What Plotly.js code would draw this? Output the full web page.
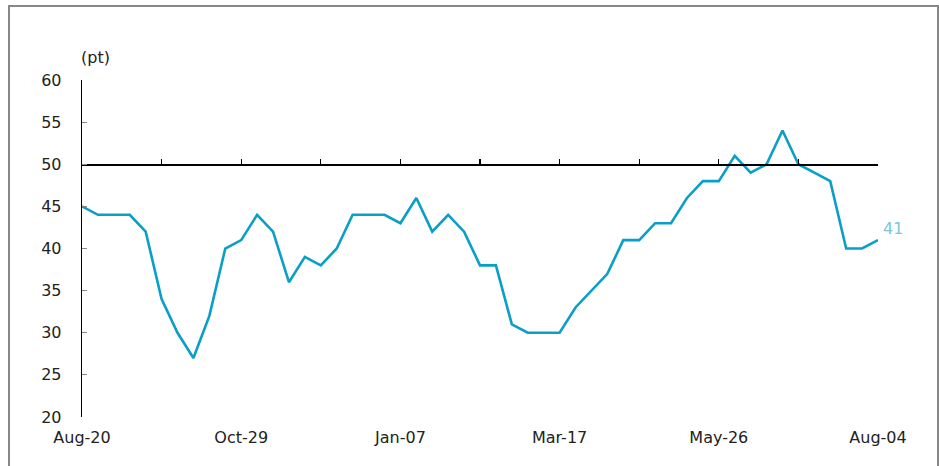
<!DOCTYPE html>
<html>
<head>
<meta charset="utf-8">
<script src="https://cdn.plot.ly/plotly-3.0.1.min.js"></script>
<style>
  html, body { margin: 0; padding: 0; background: #fff; overflow: hidden; }
  #wrap { position: relative; width: 939px; height: 466px; }
  #chart { width: 939px; height: 466px; }
  #frame { position: absolute; left: 8px; top: 5px; width: 931px; height: 475px;
           box-sizing: border-box; border: 2px solid #878787; pointer-events: none; }
</style>
</head>
<body>
<div id="wrap">
  <div id="chart"></div>
  <div id="frame"></div>
</div>
<script>
// Weekly dates (Aug 20, 2015 – Aug 4, 2016)
const weeks = [
  '2015-08-20','2015-08-27','2015-09-03','2015-09-10','2015-09-17','2015-09-24',
  '2015-10-01','2015-10-08','2015-10-15','2015-10-22','2015-10-29',
  '2015-11-05','2015-11-12','2015-11-19','2015-11-26',
  '2015-12-03','2015-12-10','2015-12-17','2015-12-24','2015-12-31',
  '2016-01-07','2016-01-14','2016-01-21','2016-01-28',
  '2016-02-04','2016-02-11','2016-02-18','2016-02-25',
  '2016-03-03','2016-03-10','2016-03-17','2016-03-24','2016-03-31',
  '2016-04-07','2016-04-14','2016-04-21','2016-04-28',
  '2016-05-05','2016-05-12','2016-05-19','2016-05-26',
  '2016-06-02','2016-06-09','2016-06-16','2016-06-23','2016-06-30',
  '2016-07-07','2016-07-14','2016-07-21','2016-07-28',
  '2016-08-04'
];
// Index values (pt)
const values = [
  45, 44, 44, 44, 42, 34, 30, 27, 32, 40, 41,
  44, 42, 36, 39, 38, 40, 44, 44, 44,
  43, 46, 42, 44, 42, 38, 38, 31, 30, 30,
  30, 33, 35, 37, 41, 41, 43, 43, 46, 48,
  48, 51, 49, 50, 54, 50, 49, 48, 40, 40,
  41
];
// Labelled x ticks
const labelDates = ['2015-08-20','2015-10-29','2016-01-07','2016-03-17','2016-05-26','2016-08-04'];
const labelText  = ['Aug-20','Oct-29','Jan-07','Mar-17','May-26','Aug-04'];
// Tick marks on the 50-line (every 5 weeks)
const markDates = ['2015-08-20','2015-09-24','2015-10-29','2015-12-03','2016-01-07','2016-02-11',
                   '2016-03-17','2016-04-21','2016-05-26','2016-06-30','2016-08-04'];
const yTicks = [20, 25, 30, 35, 40, 45, 50, 55, 60];
const unitLabel = '(pt)';

const FONT = 'DejaVu Sans, sans-serif';
const LINE = '#0A9FC6';
const lastIdx = values.length - 1;

const traces = [
  {
    x: weeks, y: values, type: 'scatter', mode: 'lines',
    line: { color: LINE, width: 2.6 },
    hoverinfo: 'x+y', showlegend: false
  },
  {
    x: [weeks[0]], y: [null], xaxis: 'x2', type: 'scatter', mode: 'lines',
    showlegend: false, hoverinfo: 'skip'
  }
];

const xrange = [weeks[0], weeks[lastIdx]];

const layout = {
  width: 939, height: 466,
  margin: { l: 82, r: 61, t: 80, b: 49 },
  paper_bgcolor: '#fff', plot_bgcolor: '#fff',
  font: { family: FONT, size: 16, color: '#222' },
  showlegend: false,
  xaxis: {
    type: 'date', range: xrange,
    tickmode: 'array', tickvals: labelDates, ticktext: labelText,
    ticks: '', showline: false, showgrid: false, zeroline: false,
    tickfont: { family: FONT, size: 16, color: '#222' },
    ticklabelstandoff: 9
  },
  xaxis2: {
    type: 'date', range: xrange, overlaying: 'x', anchor: 'free', position: 0.75,
    tickmode: 'array', tickvals: markDates, showticklabels: false,
    ticks: 'inside', ticklen: 5, tickwidth: 1.2, tickcolor: '#000',
    showline: true, linecolor: '#000', linewidth: 1.4,
    showgrid: false, zeroline: false
  },
  yaxis: {
    range: [20, 60], tickmode: 'array', tickvals: yTicks,
    ticks: 'inside', ticklen: 5, tickwidth: 1.2, tickcolor: '#8a8a8a',
    showline: true, linecolor: '#000', linewidth: 1.3,
    showgrid: false, zeroline: false,
    tickfont: { family: FONT, size: 16, color: '#222' },
    ticklabelstandoff: 16
  },
  annotations: [
    {
      xref: 'paper', yref: 'paper', x: 0, y: 1, xanchor: 'left', yanchor: 'bottom',
      xshift: -3, yshift: 11, text: unitLabel, showarrow: false,
      font: { family: FONT, size: 16, color: '#222' }
    },
    {
      xref: 'x', yref: 'y', x: weeks[lastIdx], y: values[lastIdx],
      xanchor: 'left', yanchor: 'middle', xshift: 3, yshift: 12,
      text: String(values[lastIdx]), showarrow: false,
      font: { family: FONT, size: 16, color: '#7CC5DB' }
    }
  ]
};

Plotly.newPlot('chart', traces, layout, { displayModeBar: false, staticPlot: true });
</script>
</body>
</html>
